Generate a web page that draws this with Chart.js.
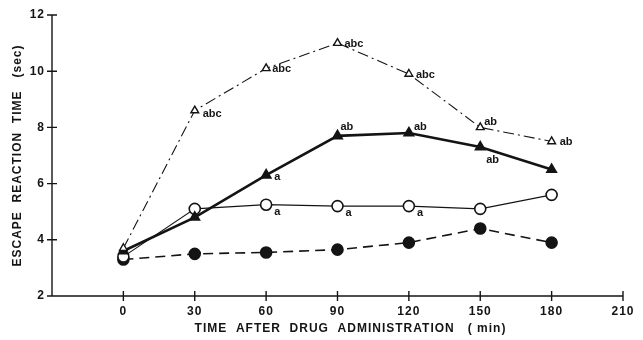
<!DOCTYPE html>
<html>
<head>
<meta charset="utf-8">
<script src="https://cdn.jsdelivr.net/npm/chart.js@4"></script>
<style>
  html, body { margin: 0; padding: 0; background: #fff; }
  #wrap { width: 643px; height: 340px; }
</style>
</head>
<body>
<div id="wrap"><canvas id="escape"></canvas></div>
<script>
// minutes after drug administration
var times = [0, 30, 60, 90, 120, 150, 180];

// escape reaction time (sec)
var openTriangle   = [3.7, 8.6, 10.1, 11.0, 9.9, 8.0, 7.5];
var filledTriangle = [3.6, 4.8, 6.3, 7.7, 7.8, 7.3, 6.5];
var openCircle     = [3.4, 5.1, 5.25, 5.2, 5.2, 5.1, 5.6];
var filledCircle   = [3.3, 3.5, 3.55, 3.65, 3.9, 4.4, 3.9];

// significance letters next to the points
var openTriangleMarks   = ['', 'abc', 'abc', 'abc', 'abc', 'ab', 'ab'];
var filledTriangleMarks = ['', '', 'a', 'ab', 'ab', 'ab', ''];
var openCircleMarks     = ['', '', 'a', 'a', 'a', '', ''];

var yTicks = [2, 4, 6, 8, 10, 12];
var xTicks = [0, 30, 60, 90, 120, 150, 180, 210];

var ink = '#141414';

function pts(ys) {
  return times.map(function (t, i) { return { x: t, y: ys[i] }; });
}

// where each letter group sits relative to its point (dx, dy, px)
var markOffset = {
  0: [[0,0],[8,3],[6,1],[7,1],[7,1],[4,-5],[8,1]],
  1: [[0,0],[0,0],[8,2],[3,-9],[5,-6],[6,13],[0,0]],
  2: [[0,0],[0,0],[8,7],[8,7],[8,7],[0,0],[0,0]]
};
var markLists = [openTriangleMarks, filledTriangleMarks, openCircleMarks];

// spread the lettering a little, like the old stencil text
// (has to be set per draw: resizing the canvas wipes the context state)
var spacing = {
  id: 'spacing',
  beforeDraw: function (chart) { chart.ctx.letterSpacing = '1px'; }
};

// letters drawn by hand, positioned from the dataset's own points
var marksPlugin = {
  id: 'marks',
  afterDatasetsDraw: function (chart) {
    var ctx = chart.ctx;
    ctx.save();
    ctx.letterSpacing = '0px';
    ctx.fillStyle = ink;
    ctx.font = 'bold 11px "Liberation Sans", Arial, sans-serif';
    ctx.textBaseline = 'middle';
    ctx.textAlign = 'left';
    markLists.forEach(function (marks, di) {
      var meta = chart.getDatasetMeta(di);
      marks.forEach(function (txt, i) {
        if (!txt) return;
        var p = meta.data[i];
        var off = markOffset[di][i];
        ctx.fillText(txt, p.x + off[0], p.y + off[1]);
      });
    });
    ctx.restore();
  }
};

// "+" style ticks crossing both axes
var crossTicks = {
  id: 'crossTicks',
  afterDraw: function (chart) {
    var ctx = chart.ctx;
    var xs = chart.scales.x, ys = chart.scales.y;
    var x0 = xs.left, y0 = ys.bottom;
    ctx.save();
    ctx.strokeStyle = ink;
    ctx.lineWidth = 1.4;
    ctx.beginPath();
    ctx.moveTo(x0, ys.top);
    ctx.lineTo(x0, y0);
    ctx.lineTo(xs.right, y0);
    yTicks.forEach(function (v) {
      var py = ys.getPixelForValue(v);
      ctx.moveTo(x0 - 5, py);
      ctx.lineTo(x0 + 5, py);
    });
    xTicks.forEach(function (v) {
      var px = xs.getPixelForValue(v);
      ctx.moveTo(px, y0 - 5);
      ctx.lineTo(px, y0 + 5);
    });
    ctx.stroke();
    ctx.restore();
  }
};

var tickFont = { family: '"Liberation Sans", Arial, sans-serif', size: 12, weight: 'bold' };

var chart = new Chart(document.getElementById('escape'), {
  type: 'line',
  data: {
    datasets: [
      {
        data: pts(openTriangle),
        borderColor: ink,
        borderWidth: 1.1,
        borderDash: [11, 4, 2, 4],
        pointStyle: 'triangle',
        pointRadius: 4.5,
        pointBorderWidth: 1.4,
        pointBackgroundColor: '#fff',
        pointBorderColor: ink,
        tension: 0
      },
      {
        data: pts(filledTriangle),
        borderColor: ink,
        borderWidth: 2.6,
        pointStyle: 'triangle',
        pointRadius: 4.5,
        pointBackgroundColor: ink,
        pointBorderColor: ink,
        tension: 0
      },
      {
        data: pts(openCircle),
        borderColor: ink,
        borderWidth: 1.1,
        pointStyle: 'circle',
        pointRadius: 5.5,
        pointBorderWidth: 1.6,
        pointBackgroundColor: '#fff',
        pointBorderColor: ink,
        tension: 0
      },
      {
        data: pts(filledCircle),
        borderColor: ink,
        borderWidth: 1.6,
        borderDash: [10, 6],
        pointStyle: 'circle',
        pointRadius: 5.5,
        pointBackgroundColor: ink,
        pointBorderColor: ink,
        tension: 0
      }
    ]
  },
  options: {
    responsive: true,
    maintainAspectRatio: false,
    animation: false,
    layout: { padding: { top: 15, right: 20, left: 0, bottom: 0 } },
    plugins: { legend: { display: false }, tooltip: { enabled: false } },
    scales: {
      x: {
        type: 'linear',
        min: -30,
        max: 210,
        afterBuildTicks: function (s) {
          s.ticks = xTicks.map(function (v) { return { value: v }; });
        },
        afterFit: function (s) { s.height = 44; },
        grid: { display: false, drawTicks: false },
        border: { display: false },
        ticks: { color: ink, font: tickFont, padding: 8, maxRotation: 0 },
        title: {
          display: true,
          text: '      TIME  AFTER  DRUG  ADMINISTRATION   ( min)',
          color: ink,
          font: { family: '"Liberation Sans", Arial, sans-serif', size: 12, weight: 'bold' },
          padding: { top: 3 }
        }
      },
      y: {
        min: 2,
        max: 12,
        afterBuildTicks: function (s) {
          s.ticks = yTicks.map(function (v) { return { value: v }; });
        },
        afterFit: function (s) { s.width = 52; },
        grid: { display: false, drawTicks: false },
        border: { display: false },
        ticks: { color: ink, font: tickFont, padding: 7 },
        title: {
          display: true,
          text: 'ESCAPE  REACTION  TIME   (sec)',
          color: ink,
          font: { family: '"Liberation Sans", Arial, sans-serif', size: 12, weight: 'bold' },
          padding: { top: 10, bottom: 0 }
        }
      }
    }
  },
  plugins: [spacing, marksPlugin, crossTicks]
});
</script>
</body>
</html>
